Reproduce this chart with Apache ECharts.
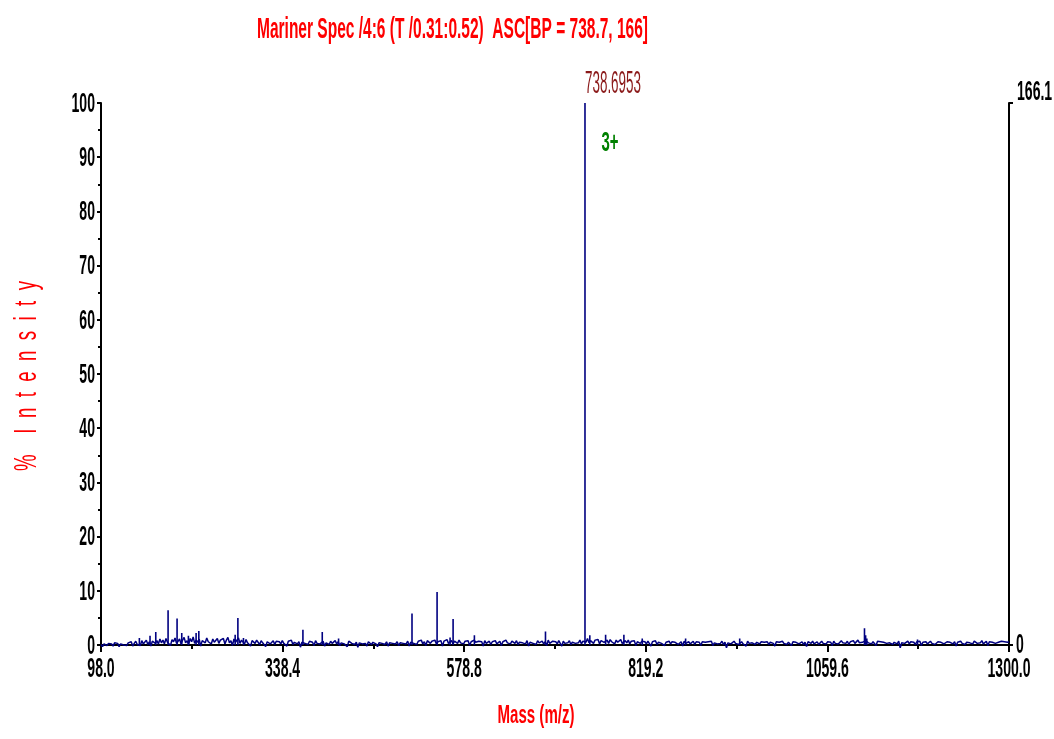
<!DOCTYPE html>
<html>
<head>
<meta charset="utf-8">
<script src="https://cdn.jsdelivr.net/npm/echarts@6/dist/echarts.min.js"></script>
<style>
  html, body { margin: 0; padding: 0; background: #ffffff; }
  #chart { width: 1054px; height: 739px; }
</style>
</head>
<body>
<div id="chart"></div>
<script>
// Spectrum header and axis texts
const titleText = 'Mariner Spec /4:6 (T /0.31:0.52)  ASC[BP = 738.7, 166]';
const xAxisTitle = 'Mass (m/z)';
const yAxisTitle = '%    I  n  t  e  n  s  i  t  y';

// Axis ranges and tick labels
const massMin = 98.0;
const massMax = 1300.0;
const massStep = 240.4;
const massTicks = [98.0, 338.4, 578.8, 819.2, 1059.6, 1300.0];
const intensityTicks = [0, 10, 20, 30, 40, 50, 60, 70, 80, 90, 100];
const absoluteTicks = [0, 166.1];   // counts: 0 and the base peak at 100 %

// Baseline noise, sampled every 2 m/z from 98 (percent of base peak)
const noiseStart = 98;
const noiseStep = 2;
const noise = [
  0.1,-0.3,0.2,0.4,-0.1,0.3,0.0,0.2,-0.2,0.4,0.1,0.3,-0.3,0.2,0.5,0.0,0.3,-0.1,0.4,0.2,0.6,-0.2,0.3,0.7,0.1,0.4,-0.1,0.8,0.2,0.5,0.9,0.1,0.6,-0.2,0.7,1.0,0.3,0.8,0.2,1.1,
  0.4,0.9,0.2,1.2,0.5,0.8,-0.1,1.0,0.6,1.3,0.3,0.7,1.1,0.2,0.9,1.4,0.4,0.8,0.1,1.2,0.6,1.5,0.3,0.9,0.5,1.1,-0.2,0.8,1.0,0.4,1.3,0.6,0.9,0.2,1.1,0.5,0.7,1.2,0.3,0.9,
  0.6,1.2,0.2,0.9,1.4,0.4,0.8,-0.1,1.1,0.5,0.7,1.3,0.3,0.9,0.6,0.2,1.0,0.4,0.7,-0.2,0.8,0.5,0.3,0.9,0.6,0.1,0.8,0.4,0.7,-0.3,0.6,0.9,0.2,0.5,0.8,0.1,0.7,0.4,0.6,0.2,
  0.8,0.3,0.6,-0.2,0.7,0.4,0.9,0.1,0.5,0.7,0.2,0.6,-0.4,0.5,0.8,0.3,0.6,0.1,0.7,0.4,0.5,-0.1,0.8,0.3,0.6,0.2,0.5,0.7,-0.2,0.4,0.6,0.1,0.7,0.3,0.5,0.8,0.2,0.6,-0.1,0.4,
  0.6,0.2,0.5,-0.3,0.7,0.4,0.3,0.6,0.1,0.5,-0.4,0.4,0.7,0.2,0.5,0.3,-0.2,0.6,0.4,0.1,0.5,0.7,0.2,-0.3,0.4,0.6,0.3,0.5,0.1,0.6,-0.2,0.4,0.7,0.3,0.5,0.2,0.6,-0.1,0.4,0.5,
  0.3,0.6,0.2,0.7,-0.2,0.5,0.8,0.3,0.6,0.1,0.7,0.4,0.9,0.2,0.6,-0.1,0.8,0.5,0.3,0.7,0.4,0.9,0.2,0.6,0.5,0.8,-0.2,0.7,0.4,1.0,0.3,0.6,0.8,0.2,0.7,0.5,0.3,0.9,0.4,0.6,
  0.2,0.7,0.4,0.8,-0.1,0.6,0.3,0.9,0.5,0.2,0.7,0.4,0.6,-0.2,0.8,0.3,0.5,0.7,0.1,0.6,0.4,0.8,0.2,0.5,0.7,-0.1,0.6,0.3,0.9,0.4,0.5,0.2,0.7,0.6,0.3,0.8,0.1,0.5,0.7,0.4,
  0.6,0.2,0.8,-0.2,0.5,0.7,0.3,0.6,0.1,0.8,0.4,0.5,0.7,0.2,0.6,-0.1,0.9,0.3,0.5,0.7,0.4,0.6,0.2,0.8,0.5,-0.2,0.7,0.3,0.6,0.4,0.8,0.1,0.5,0.7,0.3,0.6,0.4,0.9,0.2,0.7,
  0.9,0.5,1.2,0.4,0.8,1.1,0.3,0.9,0.6,1.0,0.2,0.8,1.1,0.5,0.7,0.9,0.3,1.0,0.6,0.8,0.2,0.9,0.5,0.7,1.0,0.3,0.6,0.8,0.4,0.9,0.2,0.7,0.5,0.8,-0.1,0.6,0.9,0.3,0.7,0.5,
  0.6,0.2,0.7,0.4,-0.2,0.6,0.3,0.8,0.1,0.5,0.7,0.3,0.6,-0.1,0.5,0.4,0.7,0.2,0.6,0.3,0.5,0.8,0.1,0.4,0.6,-0.2,0.7,0.3,0.5,0.6,0.2,0.4,0.7,0.1,0.6,0.3,0.5,-0.1,0.6,0.4,
  0.5,0.2,0.6,0.3,0.7,-0.1,0.4,0.6,0.2,0.5,0.3,0.7,0.1,0.5,-0.5,0.4,0.6,0.2,0.5,0.7,0.3,0.6,0.1,0.4,0.6,0.2,0.5,-0.2,0.7,0.3,0.5,0.4,0.6,0.1,0.5,0.7,0.2,0.6,0.3,0.5,
  0.4,0.6,0.1,0.5,0.7,0.3,-0.2,0.6,0.4,0.5,0.2,0.7,0.3,0.6,0.1,0.5,0.4,-0.1,0.6,0.3,0.5,0.7,0.2,0.4,0.6,0.1,0.5,-0.3,0.6,0.4,0.3,0.7,0.2,0.5,0.6,0.1,0.4,0.7,0.3,0.5,
  0.2,0.6,0.4,0.5,-0.1,0.7,0.3,0.6,0.2,0.5,0.8,0.4,0.6,0.3,0.7,0.1,0.6,0.5,0.8,0.3,0.6,0.9,0.4,0.7,0.5,0.3,0.8,0.6,0.4,0.7,0.2,0.6,0.5,-0.1,0.7,0.4,0.6,0.3,0.5,0.6,
  0.3,0.6,0.4,0.7,0.1,0.5,0.6,0.2,0.7,-0.5,0.4,0.6,0.3,0.5,0.7,0.2,0.6,0.4,0.5,0.1,0.6,0.3,0.7,-0.1,0.5,0.4,0.6,0.2,0.5,0.7,0.3,0.6,0.1,0.4,0.6,0.3,0.5,0.7,0.2,0.5,
  0.6,0.3,0.5,0.7,0.2,0.6,-0.2,0.5,0.4,0.7,0.3,0.6,0.1,0.5,0.8,0.4,0.6,0.2,0.7,0.5,0.3,0.6,0.4,0.8,0.2,0.5,0.7,-0.1,0.6,0.4,0.5,0.7,0.3,0.6,0.5,0.2,0.7,0.4,0.6,0.8,
  0.5,0.6
];

// Centroided peaks: m/z and relative intensity (%)
const peakMz = [
  148.8, 162.9, 170.5, 186.8, 198.7, 204.9, 213.7, 223.9, 227.5, 275.6,
  279.2, 286.6, 365.3, 390.9, 412.5, 509.7, 542.9, 560.1, 564.1, 592.3,
  686.4, 738.6953, 745.1, 766.0, 790.2, 814.5, 871.9, 943.5, 1108.7, 1110.2,
  1111.8, 1178.9
];
const peakInt = [
  1.3, 1.7, 2.4, 6.4, 4.9, 2.2, 1.7, 2.2, 2.6, 1.9,
  5.0, 1.3, 2.8, 2.4, 1.2, 5.8, 9.8, 1.4, 4.8, 1.8,
  2.5, 100, 1.8, 1.9, 1.9, 1.2, 1.2, 1.2, 3.1, 1.8,
  1.2, 1.0
];

// Base peak annotation
const basePeakMz = 738.6953;
const basePeakInt = 100;
const chargeText = '3+';
const chargeLevel = 92.6;

const traceColor = '#000080';
const FONT = "'Liberation Sans', Arial, sans-serif";

// Plotting data
const noiseData = noise.map((v, i) => [noiseStart + i * noiseStep, v]);
const stickData = [];
peakMz.forEach((mz, i) => {
  stickData.push([mz, 0], [mz, peakInt[i]], [mz, 0], [mz, '-']);
});

// The spectrum lettering is a tall, condensed face: squeeze regular glyphs horizontally
const measureCtx = document.createElement('canvas').getContext('2d');
function textWidth(text, weight, size) {
  measureCtx.font = weight + ' ' + size + 'px ' + FONT;
  return measureCtx.measureText(text).width;
}
function squeezedText(text, opts) {
  const weight = opts.bold ? 'bold' : 'normal';
  const scale = opts.scale != null ? opts.scale : opts.width / textWidth(text, weight, opts.size);
  return {
    type: 'text',
    x: opts.x,
    y: opts.y,
    rotation: opts.rotation || 0,
    scaleX: scale,
    silent: true,
    z: 10,
    style: {
      text: text,
      x: 0,
      y: 0,
      fontFamily: FONT,
      fontWeight: weight,
      fontSize: opts.size,
      fill: opts.color || '#000',
      align: opts.align || 'left',
      verticalAlign: opts.vAlign || 'middle'
    }
  };
}

const chart = echarts.init(document.getElementById('chart'), null, { renderer: 'canvas' });

chart.setOption({
  backgroundColor: '#ffffff',
  animation: false,
  grid: { left: 101, right: 45, top: 103, bottom: 94, containLabel: false, outerBoundsMode: 'none' },
  xAxis: {
    type: 'value',
    min: massMin,
    max: massMax,
    interval: massStep,
    splitLine: { show: false },
    axisLine: { show: true, lineStyle: { color: '#000', width: 2 } },
    axisTick: { show: true, length: 7, lineStyle: { color: '#000', width: 2 } },
    minorTick: { show: true, splitNumber: 2, length: 4, lineStyle: { color: '#000', width: 2 } },
    axisLabel: { show: false }
  },
  yAxis: [
    {
      type: 'value',
      min: 0,
      max: 100,
      interval: 10,
      splitLine: { show: false },
      axisLine: { show: true, lineStyle: { color: '#000', width: 2 } },
      axisTick: { show: true, length: 4, lineStyle: { color: '#000', width: 2 } },
      minorTick: { show: true, splitNumber: 2, length: 3, lineStyle: { color: '#000', width: 2 } },
      axisLabel: { show: false }
    },
    {
      type: 'value',
      position: 'right',
      min: absoluteTicks[0],
      max: absoluteTicks[1],
      interval: absoluteTicks[1],
      splitLine: { show: false },
      axisLine: { show: true, lineStyle: { color: '#000', width: 2 } },
      axisTick: { show: true, length: 4, lineStyle: { color: '#000', width: 2 } },
      axisLabel: { show: false }
    }
  ],
  series: [
    {
      name: 'noise',
      type: 'line',
      data: noiseData,
      showSymbol: false,
      clip: false,
      lineStyle: { color: traceColor, width: 1.5 },
      z: 3
    },
    {
      name: 'peaks',
      type: 'line',
      data: stickData,
      showSymbol: false,
      connectNulls: false,
      clip: false,
      lineStyle: { color: traceColor, width: 1.6 },
      z: 4
    }
  ]
});

// Tick labels, titles and peak annotations, placed through the axes' own scales
const px = v => chart.convertToPixel({ xAxisIndex: 0 }, v);
const py = v => chart.convertToPixel({ yAxisIndex: 0 }, v);
const pyAbs = v => chart.convertToPixel({ yAxisIndex: 1 }, v);
const tickScale = 43 / textWidth('1300.0', 'bold', 28);

const gfx = [];
gfx.push(squeezedText(titleText, { x: 257, y: 30, size: 29, bold: true, width: 391, color: '#ff0000' }));
gfx.push(squeezedText(xAxisTitle, { x: 536, y: 716, size: 26, bold: true, width: 77, color: '#ff0000', align: 'center' }));
gfx.push(squeezedText(yAxisTitle, { x: 27, y: 376, size: 32, bold: false, width: 190, color: '#ff0000', align: 'center', rotation: Math.PI / 2 }));

massTicks.forEach(v => {
  gfx.push(squeezedText(v.toFixed(1), { x: px(v), y: 669, size: 28, bold: true, scale: tickScale, align: 'center' }));
});
intensityTicks.forEach(v => {
  gfx.push(squeezedText(String(v), { x: 95, y: py(v) + 1, size: 28, bold: true, scale: tickScale, align: 'right' }));
});
const rightX = chart.convertToPixel({ xAxisIndex: 0 }, massMax);
gfx.push(squeezedText(String(absoluteTicks[0]), { x: rightX + 7, y: pyAbs(absoluteTicks[0]), size: 28, bold: true, scale: tickScale }));
gfx.push(squeezedText(absoluteTicks[1].toFixed(1), { x: rightX + 8, y: pyAbs(absoluteTicks[1]) + 3, size: 28, bold: true, scale: tickScale, vAlign: 'bottom' }));

// Base peak m/z and its charge state
gfx.push(squeezedText(basePeakMz.toFixed(4), { x: px(basePeakMz), y: py(basePeakInt) - 3, size: 31, bold: false, width: 56, color: '#8b1a1a', vAlign: 'bottom' }));
gfx.push(squeezedText(chargeText, { x: px(basePeakMz) + 25, y: py(chargeLevel), size: 28, bold: true, width: 17, color: '#008000', align: 'center' }));

chart.setOption({ graphic: gfx });
</script>
</body>
</html>
